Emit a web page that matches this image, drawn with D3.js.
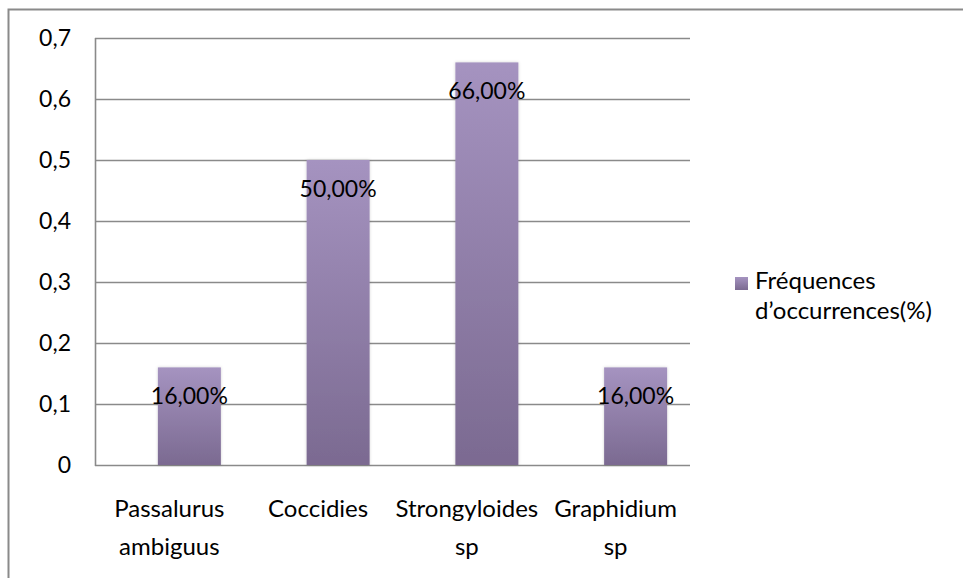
<!DOCTYPE html>
<html>
<head>
<meta charset="utf-8">
<script src="https://cdn.jsdelivr.net/npm/d3@7"></script>
<style>
  html, body { margin: 0; padding: 0; background: #fff; }
  svg { display: block; font-family: Lato, "Open Sans", sans-serif; }
</style>
</head>
<body>
<svg id="chart" width="963" height="578"></svg>
<script>
// Parasite categories (two-line labels) and occurrence frequencies
const categories = [
  ["Passalurus", "ambiguus"],
  ["Coccidies"],
  ["Strongyloides", "sp"],
  ["Graphidium", "sp"]
];
const values = [0.16, 0.50, 0.66, 0.16];
const valueLabels = ["16,00%", "50,00%", "66,00%", "16,00%"];
const yTicks = [0, 0.1, 0.2, 0.3, 0.4, 0.5, 0.6, 0.7];
const yTickLabels = ["0", "0,1", "0,2", "0,3", "0,4", "0,5", "0,6", "0,7"];
const seriesName = ["Fréquences", "d\u2019occurrences(%)"];

const svg = d3.select("#chart");
const plot = { left: 95, right: 690, top: 38, bottom: 465 };
const gridColor = "#8a8a8a";
const wordSize = 24;
const numSize = 23;

// outer chart frame (open at right and bottom)
svg.append("path")
  .attr("d", "M8.5,578 V9.5 H963")
  .attr("fill", "none").attr("stroke", gridColor).attr("stroke-width", 2);

const x = d3.scaleBand().domain(d3.range(categories.length))
  .range([plot.left, plot.right]);
const y = d3.scaleLinear().domain([0, 0.7]).range([plot.bottom, plot.top]);
const barWidth = 63;
const barShift = 20; // bars sit slightly right of the category centre

const defs = svg.append("defs");
["barGrad", "legGrad"].forEach(id => {
  const g = defs.append("linearGradient").attr("id", id)
    .attr("x1", 0).attr("y1", 0).attr("x2", 0).attr("y2", 1);
  g.append("stop").attr("offset", "0%").attr("stop-color", "#a593c0");
  g.append("stop").attr("offset", "100%").attr("stop-color", "#7b6a91");
});
const shadow = defs.append("filter").attr("id", "shadow")
  .attr("x", "-20%").attr("y", "-5%").attr("width", "140%").attr("height", "110%");
shadow.append("feDropShadow").attr("dx", 0).attr("dy", 0)
  .attr("stdDeviation", 1.5).attr("flood-color", "#000").attr("flood-opacity", 0.18);

// gridlines
svg.append("g").selectAll("line").data(yTicks).join("line")
  .attr("x1", plot.left).attr("x2", plot.right)
  .attr("y1", d => Math.round(y(d)) + 0.5).attr("y2", d => Math.round(y(d)) + 0.5)
  .attr("stroke", gridColor).attr("stroke-width", 1.6);

// bars
svg.append("g").selectAll("rect").data(values).join("rect")
  .attr("x", (d, i) => x(i) + x.bandwidth() / 2 + barShift - barWidth / 2)
  .attr("width", barWidth)
  .attr("y", d => y(d))
  .attr("height", d => y(0) - y(d))
  .attr("fill", "url(#barGrad)")
  .attr("filter", "url(#shadow)");

// y axis line
svg.append("line")
  .attr("x1", plot.left + 0.5).attr("x2", plot.left + 0.5)
  .attr("y1", plot.top).attr("y2", plot.bottom + 1)
  .attr("stroke", gridColor).attr("stroke-width", 1.6);

// y tick labels
svg.append("g").selectAll("text").data(yTicks).join("text")
  .attr("x", 71).attr("y", d => y(d))
  .attr("dy", "0.35em").attr("text-anchor", "end")
  .attr("font-size", numSize).attr("fill", "#000")
  .text((d, i) => yTickLabels[i]);

// value labels
svg.append("g").selectAll("text").data(values).join("text")
  .attr("x", (d, i) => x(i) + x.bandwidth() / 2 + barShift)
  .attr("y", d => y(d) + 29)
  .attr("dy", "0.35em").attr("text-anchor", "middle")
  .attr("font-size", numSize).attr("fill", "#000")
  .text((d, i) => valueLabels[i]);

// category labels
const cat = svg.append("g").selectAll("text").data(categories).join("text")
  .attr("text-anchor", "middle")
  .attr("font-size", wordSize).attr("fill", "#000");
cat.each(function(lines, i) {
  d3.select(this).selectAll("tspan").data(lines).join("tspan")
    .attr("x", x(i) + x.bandwidth() / 2)
    .attr("y", (d, j) => 517 + j * 38)
    .text(d => d);
});

// legend
const leg = svg.append("g");
leg.append("rect").attr("x", 735).attr("y", 277).attr("width", 13).attr("height", 13)
  .attr("fill", "url(#legGrad)");
leg.selectAll("text").data(seriesName).join("text")
  .attr("x", 755).attr("y", (d, i) => 289 + i * 30)
  .attr("font-size", wordSize).attr("fill", "#000")
  .text(d => d);
</script>
</body>
</html>
